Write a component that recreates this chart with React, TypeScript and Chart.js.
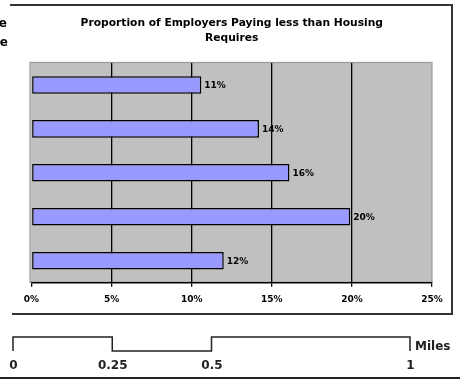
import React, { useEffect, useRef } from "react";
import { Chart, registerables } from "chart.js";

Chart.register(...registerables);

const categories = ["", "", "", "", ""];
const proportions = [10.6, 14.2, 16.1, 19.9, 12.0];
const valueLabels = ["11%", "14%", "16%", "20%", "12%"];
const titleLines = ["Proportion of Employers Paying less than Housing", "Requires"];
const scaleMiles = [0, 0.25, 0.5, 1];
const scaleLabels = ["0", "0.25", "0.5", "1"];
const scaleUnit = "Miles";

const BOLD = "'DejaVu Sans', Verdana, sans-serif";

const extrasPlugin = {
  id: "extras",
  beforeDraw(chart: any) {
    const { ctx, chartArea: a } = chart;
    ctx.save();
    ctx.fillStyle = "#C0C0C0";
    ctx.fillRect(a.left - 1, a.top, a.right - a.left + 1, a.bottom - a.top);
    ctx.strokeStyle = "#9a9a9a";
    ctx.lineWidth = 1.2;
    ctx.strokeRect(a.left - 1.5, a.top - 0.5, a.right - a.left + 1.5, a.bottom - a.top);
    ctx.restore();
  },
  afterDraw(chart: any) {
    const { ctx } = chart;
    ctx.save();
    // value labels
    const meta = chart.getDatasetMeta(0);
    ctx.fillStyle = "#000";
    ctx.font = "bold 9px " + BOLD;
    ctx.textAlign = "left";
    ctx.textBaseline = "middle";
    meta.data.forEach((bar: any, i: number) => {
      ctx.fillText(valueLabels[i], bar.x + 3, bar.y + 0.5);
    });
    // frame
    ctx.strokeStyle = "#333";
    ctx.lineWidth = 2;
    ctx.beginPath();
    ctx.moveTo(10, 5);
    ctx.lineTo(452, 5);
    ctx.lineTo(452, 314);
    ctx.lineTo(12, 314);
    ctx.stroke();
    // clipped left letters
    ctx.fillStyle = "#000";
    ctx.font = "bold 12px " + BOLD;
    ctx.textAlign = "right";
    ctx.textBaseline = "alphabetic";
    ctx.fillText("e", 7, 27);
    ctx.fillText("e", 8, 46);
    // scale bar
    const x0 = 13;
    const span = 397;
    const xs = scaleMiles.map((m) => x0 + m * span);
    const yT = 337;
    const yB = 351;
    ctx.strokeStyle = "#222";
    ctx.lineWidth = 1.5;
    ctx.beginPath();
    ctx.moveTo(xs[0], yB);
    ctx.lineTo(xs[0], yT);
    ctx.lineTo(xs[1], yT);
    ctx.lineTo(xs[1], yB);
    ctx.lineTo(xs[2], yB);
    ctx.lineTo(xs[2], yT);
    ctx.lineTo(xs[3], yT);
    ctx.lineTo(xs[3], yB);
    ctx.stroke();
    ctx.fillStyle = "#222";
    ctx.font = "bold 12px " + BOLD;
    ctx.textAlign = "center";
    ctx.textBaseline = "middle";
    xs.forEach((x, i) => ctx.fillText(scaleLabels[i], x + 0.5, 366));
    ctx.textAlign = "left";
    ctx.fillText(scaleUnit, 415, 347);
    // bottom rule
    ctx.strokeStyle = "#222";
    ctx.lineWidth = 2;
    ctx.beginPath();
    ctx.moveTo(0, 378);
    ctx.lineTo(460, 378);
    ctx.stroke();
    ctx.restore();
  },
};

export default function App() {
  const ref = useRef<HTMLCanvasElement>(null);
  useEffect(() => {
    if (!ref.current) return;
    const chart = new Chart(ref.current, {
      type: "bar",
      data: {
        labels: categories,
        datasets: [
          {
            data: proportions,
            backgroundColor: "#9999FF",
            borderColor: "#000",
            borderWidth: 1.5,
            borderSkipped: false,
            categoryPercentage: 1,
            barPercentage: 0.4,
          },
        ],
      },
      options: {
        indexAxis: "y",
        animation: false,
        responsive: false,
        maintainAspectRatio: false,
        layout: { padding: { left: 31.5, right: 28, top: 0, bottom: 69.5 } },
        plugins: {
          legend: { display: false },
          tooltip: { enabled: false },
          title: {
            display: true,
            text: titleLines,
            color: "#000",
            font: { family: BOLD, size: 10.7, weight: "bold", lineHeight: 1.4 },
            padding: { top: 15.5, bottom: 17.5 },
          },
        },
        scales: {
          x: {
            min: 0,
            max: 25,
            ticks: {
              stepSize: 5,
              color: "#000",
              padding: 7.5,
              font: { family: BOLD, size: 9, weight: "bold" },
              callback: (v: any) => v + "%",
              maxRotation: 0,
            },
            grid: {
              color: (c: any) => (c.index === 0 || c.index === 5 ? "rgba(0,0,0,0)" : "#000"),
              lineWidth: 1.3,
              tickColor: "#000",
              tickLength: 4,
              drawTicks: true,
            },
            border: { display: true, color: "#000", width: 1.5 },
          },
          y: { display: false },
        },
      },
      plugins: [extrasPlugin],
    });
    return () => chart.destroy();
  }, []);
  return (
    <div style={{ position: "absolute", left: 0, top: 0, width: 460, height: 382, background: "#fff" }}>
      <canvas ref={ref} width={460} height={382} style={{ display: "block", width: 460, height: 382 }} />
    </div>
  );
}
